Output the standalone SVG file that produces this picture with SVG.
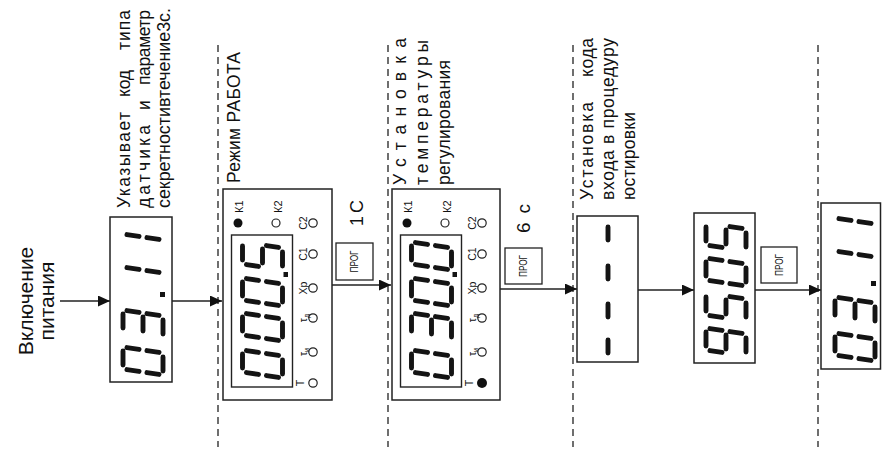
<svg xmlns="http://www.w3.org/2000/svg" xmlns:xlink="http://www.w3.org/1999/xlink" width="882" height="451" viewBox="0 0 882 451">
<defs>
<style>
text{font-family:"Liberation Sans",Arial,sans-serif;fill:#111}
.t{font-size:17.5px}
.box{fill:#fff;stroke:#222;stroke-width:1.5}
.inner{fill:none;stroke:#222;stroke-width:1.4}
.seg{fill:none;stroke:#141414;stroke-width:4.9;stroke-linecap:round}
.dash{fill:none;stroke:#222;stroke-width:1.3;stroke-dasharray:7 5}
.edge{fill:none;stroke:#222;stroke-width:1.4}
.led{fill:#fff;stroke:#222;stroke-width:1.2}
.ledon{fill:#111}
.lbl{font-size:10.5px}
.prog{fill:#fff;stroke:#222;stroke-width:1.3}
.progt{font-size:10px}
.dot{fill:#141414}
</style>
<marker id="ah" viewBox="0 0 12 11" refX="12" refY="5.5" markerWidth="12" markerHeight="11" markerUnits="userSpaceOnUse" orient="auto">
<path d="M0,0 L12,5.5 L0,11 z" fill="#111"/>
</marker>
<path id="d0" class="seg" d="M10,-40L24,-40M27.41,-36.04L25.59,-23.96M24.41,-16.04L22.59,-3.96M4,0L18,0M2.41,-16.04L0.59,-3.96M5.41,-36.04L3.59,-23.96"/>
<path id="d1" class="seg" d="M27.41,-36.04L25.59,-23.96M24.41,-16.04L22.59,-3.96"/>
<path id="d3" class="seg" d="M10,-40L24,-40M27.41,-36.04L25.59,-23.96M24.41,-16.04L22.59,-3.96M4,0L18,0M7,-20L21,-20"/>
<path id="d5" class="seg" d="M10,-40L24,-40M5.41,-36.04L3.59,-23.96M7,-20L21,-20M24.41,-16.04L22.59,-3.96M4,0L18,0"/>
<path id="d9" class="seg" d="M10,-40L24,-40M27.41,-36.04L25.59,-23.96M24.41,-16.04L22.59,-3.96M4,0L18,0M5.41,-36.04L3.59,-23.96M7,-20L21,-20"/>
</defs>

<!-- dividing dashed lines -->
<g id="dividers">
<line class="dash" x1="218" y1="45" x2="218" y2="447"/>
<line class="dash" x1="388" y1="45" x2="388" y2="447"/>
<line class="dash" x1="573" y1="45" x2="573" y2="447"/>
<line class="dash" x1="818" y1="45" x2="818" y2="447"/>
</g>

<!-- connectors -->
<g id="connectors">
<path class="edge" d="M60,301H110" marker-end="url(#ah)"/>
<path class="edge" d="M172,301H222" marker-end="url(#ah)"/>
<path class="edge" d="M332,285H391" marker-end="url(#ah)"/>
<path class="edge" d="M500,289H577" marker-end="url(#ah)"/>
<path class="edge" d="M638,290H694" marker-end="url(#ah)"/>
<path class="edge" d="M755,290H821" marker-end="url(#ah)"/>
<rect class="prog" x="336" y="243" width="37" height="37"/>
<rect class="prog" x="505" y="248" width="37" height="36"/>
<rect class="prog" x="761" y="247" width="36" height="36"/>
<g transform="rotate(-90)">
<text class="progt" x="-261.5" y="358" text-anchor="middle" textLength="22" lengthAdjust="spacingAndGlyphs">ПРОГ</text>
<text class="progt" x="-266" y="527" text-anchor="middle" textLength="22" lengthAdjust="spacingAndGlyphs">ПРОГ</text>
<text class="progt" x="-265" y="782.5" text-anchor="middle" textLength="22" lengthAdjust="spacingAndGlyphs">ПРОГ</text>
<text x="-226" y="363" font-size="18" textLength="26">1 С</text>
<text x="-233" y="530" font-size="19" textLength="29">6 с</text>
</g>
</g>

<!-- power on -->
<g id="power">
<g transform="rotate(-90)">
<text x="-301" y="33" font-size="21" text-anchor="middle">Включение</text>
<text x="-301" y="54" font-size="21" text-anchor="middle">питания</text>
</g>
</g>

<!-- node 1: sensor code -->
<g id="n1-code">
<rect class="box" x="110" y="217" width="62" height="165"/>
<g transform="rotate(-90)">
<use href="#d0" x="-375" y="163"/>
<use href="#d3" x="-338" y="163"/>
<use href="#d1" x="-295" y="163"/>
<use href="#d1" x="-262" y="163"/>
<text class="t" x="-208" y="130" textLength="96">Указывает</text>
<text class="t" x="-97" y="130" textLength="27">код</text>
<text class="t" x="-50" y="130" textLength="40">типа</text>
<text class="t" x="-208" y="150" textLength="83">датчика</text>
<text class="t" x="-110" y="150" textLength="8">и</text>
<text class="t" x="-85" y="150" textLength="75">параметр</text>
<text class="t" x="-208" y="170" textLength="200" lengthAdjust="spacingAndGlyphs">секретностивтечение3с.</text>
</g>
<rect class="dot" x="160" y="292" width="5" height="5"/>
</g>

<!-- node 2: work mode -->
<g id="n2-work">
<g transform="rotate(-90)">
<text class="t" x="-183" y="240" textLength="131">Режим РАБОТА</text>
</g>
<g transform="translate(223,189)">
<rect class="box" x="0" y="0" width="109" height="211"/>
<rect class="inner" x="8.5" y="46" width="61" height="152"/>
<circle class="ledon" cx="15" cy="34" r="4.5"/>
<circle class="led" cx="53" cy="34" r="4"/>
<circle class="led" cx="90" cy="34" r="4.2"/>
<circle class="led" cx="90" cy="65" r="4.2"/>
<circle class="led" cx="90" cy="99" r="4.2"/>
<circle class="led" cx="90" cy="129" r="4.2"/>
<circle class="led" cx="90" cy="163" r="4.2"/>
<circle class="led" cx="90" cy="194" r="4.2"/>
<rect class="dot" x="60.5" y="83" width="4.5" height="5"/>
<g transform="rotate(-90)">
<use href="#d0" x="-189" y="59.5"/>
<use href="#d0" x="-152" y="59.5"/>
<use href="#d0" x="-117" y="59.5"/>
<use href="#d5" x="-81" y="59.5"/>
<text font-size="11" x="-24" y="20">К1</text>
<text font-size="11" x="-24" y="59">К2</text>
<text class="lbl" x="-34" y="84" text-anchor="middle">С2</text>
<text class="lbl" x="-65" y="84" text-anchor="middle">С1</text>
<text class="lbl" x="-99" y="84" text-anchor="middle">Хр</text>
<text class="lbl" x="-129" y="84" text-anchor="middle">τ<tspan font-size="7" dy="2">д</tspan></text>
<text class="lbl" x="-163" y="84" text-anchor="middle">τ<tspan font-size="7" dy="2">и</tspan></text>
<text class="lbl" x="-194" y="81" text-anchor="middle">Т</text>
</g>
</g>
</g>

<!-- node 3: setpoint -->
<g id="n3-setpoint">
<g transform="rotate(-90)">
<text class="t" x="-185" y="406" textLength="147">Установка</text>
<text class="t" x="-185" y="428" textLength="145">температуры</text>
<text class="t" x="-185" y="450" textLength="125">регулирования</text>
</g>
<g transform="translate(392,189)">
<rect class="box" x="0" y="0" width="108" height="211"/>
<rect class="inner" x="8.5" y="46" width="61" height="152"/>
<circle class="ledon" cx="15" cy="34" r="4.5"/>
<circle class="led" cx="53" cy="34" r="4"/>
<circle class="led" cx="90" cy="34" r="4.2"/>
<circle class="led" cx="90" cy="65" r="4.2"/>
<circle class="led" cx="90" cy="99" r="4.2"/>
<circle class="led" cx="90" cy="129" r="4.2"/>
<circle class="led" cx="90" cy="163" r="4.2"/>
<circle class="ledon" cx="90" cy="194" r="5"/>
<rect class="dot" x="60.5" y="83" width="4.5" height="5"/>
<g transform="rotate(-90)">
<use href="#d0" x="-189" y="59.5"/>
<use href="#d3" x="-152" y="59.5"/>
<use href="#d0" x="-117" y="59.5"/>
<use href="#d0" x="-81" y="59.5"/>
<text font-size="11" x="-24" y="20">К1</text>
<text font-size="11" x="-24" y="59">К2</text>
<text class="lbl" x="-34" y="84" text-anchor="middle">С2</text>
<text class="lbl" x="-65" y="84" text-anchor="middle">С1</text>
<text class="lbl" x="-99" y="84" text-anchor="middle">Хр</text>
<text class="lbl" x="-129" y="84" text-anchor="middle">τ<tspan font-size="7" dy="2">д</tspan></text>
<text class="lbl" x="-163" y="84" text-anchor="middle">τ<tspan font-size="7" dy="2">и</tspan></text>
<text class="lbl" x="-194" y="81" text-anchor="middle">Т</text>
</g>
</g>
</g>

<!-- node 4: code entry -->
<g id="n4-entry">
<g transform="rotate(-90)">
<text class="t" x="-200" y="593" textLength="98">Установка</text>
<text class="t" x="-77" y="593" textLength="39">кода</text>
<text class="t" x="-200" y="614" textLength="162">входа в процедуру</text>
<text class="t" x="-200" y="635" textLength="88">юстировки</text>
</g>
<rect class="box" x="577" y="216" width="61" height="146"/>
<path class="seg" d="M608,227V240M608,266V279M608,304V317M608,340V353"/>
</g>

<!-- node 5: code 9505 -->
<g id="n5-code">
<rect class="box" x="694" y="213" width="61" height="150"/>
<g transform="rotate(-90)">
<use href="#d9" x="-356" y="746"/>
<use href="#d5" x="-321" y="746"/>
<use href="#d0" x="-286" y="746"/>
<use href="#d5" x="-251" y="746"/>
</g>
</g>

<!-- node 6: back to sensor code -->
<g id="n6-code">
<rect class="box" x="821" y="203" width="59.5" height="166"/>
<g transform="rotate(-90)">
<use href="#d0" x="-361" y="875"/>
<use href="#d3" x="-325" y="875"/>
<use href="#d1" x="-279" y="875"/>
<use href="#d1" x="-246" y="875"/>
</g>
<rect class="dot" x="871" y="281" width="5" height="5"/>
</g>
</svg>
